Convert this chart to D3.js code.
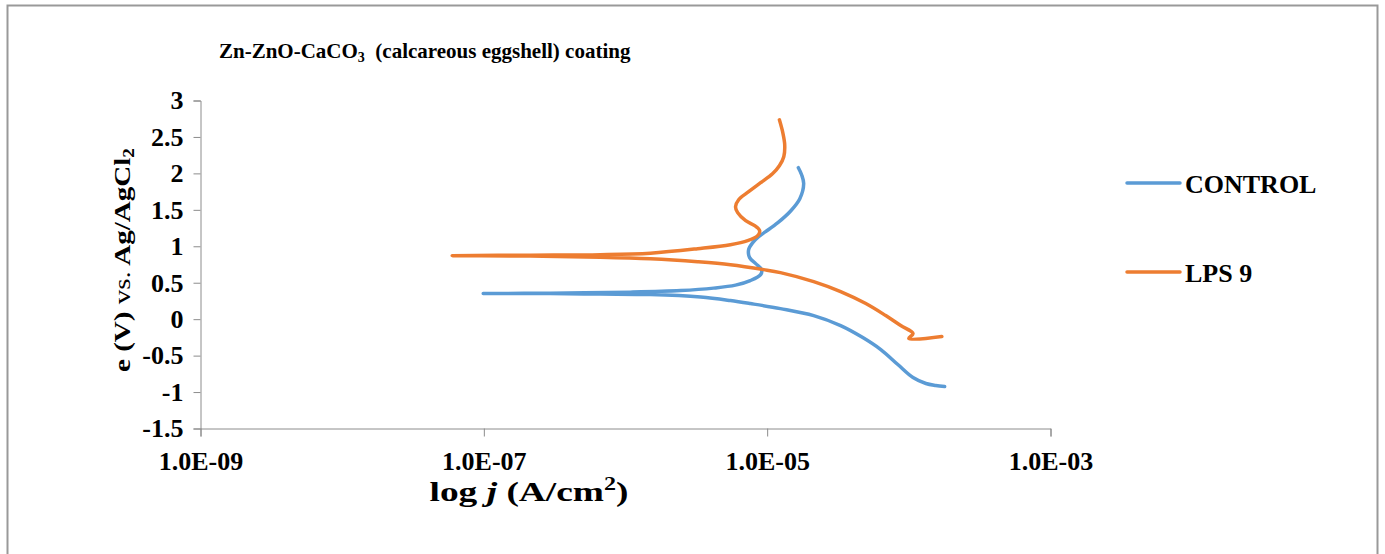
<!DOCTYPE html>
<html>
<head>
<meta charset="utf-8">
<title>Zn-ZnO-CaCO3 coating polarisation</title>
<script src="https://d3js.org/d3.v7.min.js"></script>
<style>
  body { margin: 0; background: #fff; }
  text { font-family: "Liberation Serif", "Times New Roman", serif; font-weight: bold; fill: #000; }
</style>
</head>
<body>
<div id="chart"></div>
<script>
// CONTROL curve, from the cathodic end to the anodic end
var jControl = [1.79e-4, 1.55e-4, 1.32e-4, 1.07e-4, 8.36e-5, 6.34e-5, 4.73e-5, 3.30e-5, 2.13e-5, 1.24e-5, 7.6e-6,
                5.5e-6, 3.39e-6, 1.50e-6, 6.65e-7, 2.95e-7, 9.9e-8,
                2.95e-7, 1.08e-6, 2.45e-6, 4.19e-6, 5.98e-6, 7.6e-6, 8.99e-6, 9.14e-6, 8.30e-6, 7.52e-6,
                7.40e-6, 7.91e-6, 8.71e-6, 9.75e-6, 1.19e-5, 1.47e-5, 1.70e-5, 1.81e-5, 1.75e-5, 1.66e-5]
var eControl = [-0.924, -0.910, -0.883, -0.801, -0.622, -0.417, -0.252, -0.088, 0.049, 0.145, 0.214,
                0.255, 0.303, 0.337, 0.344, 0.351, 0.351,
                0.357, 0.371, 0.392, 0.426, 0.467, 0.529, 0.611, 0.680, 0.762, 0.844,
                0.954, 1.050, 1.132, 1.200, 1.324, 1.488, 1.653, 1.858, 1.982, 2.078]

// LPS 9 curve
var jLps = [1.71e-4, 1.0e-4, 1.07e-4, 8.77e-5, 6.87e-5, 4.97e-5, 3.30e-5, 2.13e-5, 1.24e-5, 9.44e-6, 5.5e-6,
            3.23e-6, 1.50e-6, 6.65e-7, 2.13e-7, 5.98e-8,
            2.13e-7, 6.65e-7, 1.50e-6, 3.23e-6, 5.5e-6, 7.28e-6, 8.57e-6, 8.85e-6, 8.17e-6, 7.05e-6,
            6.19e-6, 5.98e-6, 6.29e-6, 7.40e-6, 8.99e-6, 1.09e-5, 1.22e-5, 1.31e-5, 1.33e-5, 1.29e-5, 1.22e-5]
var eLps = [-0.239, -0.266, -0.198, -0.088, 0.049, 0.214, 0.378, 0.515, 0.638, 0.680, 0.748,
            0.789, 0.830, 0.851, 0.865, 0.871,
            0.878, 0.885, 0.906, 0.967, 1.022, 1.077, 1.146, 1.214, 1.283, 1.351,
            1.461, 1.543, 1.639, 1.749, 1.872, 1.995, 2.105, 2.228, 2.393, 2.557, 2.735]

var seriesNames = ["CONTROL", "LPS 9"]
var seriesColors = ["#5B9BD5", "#ED7D31"]
var xTicks = [1e-9, 1e-7, 1e-5, 1e-3]
var xTickLabels = ["1.0E-09", "1.0E-07", "1.0E-05", "1.0E-03"]
var yTicks = [-1.5, -1, -0.5, 0, 0.5, 1, 1.5, 2, 2.5, 3]

var width = 1385, height = 554
var plot = { left: 200.5, right: 1050.5, top: 100.5, bottom: 428.5 }

var svg = d3.select("#chart").append("svg")
    .attr("width", width)
    .attr("height", height)

// outer frame
svg.append("rect")
    .attr("x", 7.5).attr("y", 5.5)
    .attr("width", 1370).attr("height", 600)
    .attr("fill", "none")
    .attr("stroke", "#999")
    .attr("stroke-width", 2)

var x = d3.scaleLog().domain([1e-9, 1e-3]).range([plot.left, plot.right])
var y = d3.scaleLinear().domain([-1.5, 3]).range([plot.bottom, plot.top])

var xAxis = d3.axisBottom(x)
    .tickValues(xTicks)
    .tickFormat(function(d, i) { return xTickLabels[i] })
    .tickSize(8)
    .tickPadding(15)

var yAxis = d3.axisLeft(y)
    .tickValues(yTicks)
    .tickFormat(function(d) { return String(d) })
    .tickSize(7)
    .tickPadding(10)

svg.append("g")
    .attr("transform", "translate(0," + plot.bottom + ")")
    .call(xAxis)
svg.append("g")
    .attr("transform", "translate(" + plot.left + ",0)")
    .call(yAxis)

svg.selectAll(".domain, .tick line").attr("stroke", "#8c8c8c")
svg.selectAll(".tick text")
    .attr("font-family", "Liberation Serif, Times New Roman, serif")
    .attr("font-weight", "bold")
    .attr("font-size", 26)
    .attr("fill", "#000")

// curves
var line = d3.line()
    .x(function(d) { return x(d[0]) })
    .y(function(d) { return y(d[1]) })
    .curve(d3.curveCatmullRom.alpha(0.5))

var series = [d3.zip(jControl, eControl), d3.zip(jLps, eLps)]

svg.selectAll(".curve")
    .data(series)
    .enter().append("path")
    .attr("class", "curve")
    .attr("d", line)
    .attr("fill", "none")
    .attr("stroke", function(d, i) { return seriesColors[i] })
    .attr("stroke-width", 3.5)
    .attr("stroke-linecap", "round")
    .attr("stroke-linejoin", "round")

// title
var title = svg.append("text")
    .attr("x", 219).attr("y", 58)
    .attr("font-size", 21)
title.append("tspan").text("Zn-ZnO-CaCO")
title.append("tspan").attr("font-size", 14).attr("dy", 4).text("3")
title.append("tspan").attr("dy", -4).text("\u00a0 (calcareous eggshell) coating")

// y axis title
var ytitle = svg.append("text")
    .attr("transform", "translate(130,260) rotate(-90)")
    .attr("text-anchor", "middle")
    .attr("font-size", 24)
    .attr("textLength", 224)
    .attr("lengthAdjust", "spacingAndGlyphs")
ytitle.append("tspan").text("e (V) ")
ytitle.append("tspan").attr("font-weight", "normal").text("vs.")
ytitle.append("tspan").text(" Ag/AgCl")
ytitle.append("tspan").attr("font-size", 16).attr("dy", 4).text("2")

// x axis title
var xtitle = svg.append("text")
    .attr("x", 529).attr("y", 501)
    .attr("text-anchor", "middle")
    .attr("font-size", 28)
    .attr("textLength", 199)
    .attr("lengthAdjust", "spacingAndGlyphs")
xtitle.append("tspan").text("log ")
xtitle.append("tspan").attr("font-style", "italic").text("j")
xtitle.append("tspan").text(" (A/cm")
xtitle.append("tspan").attr("font-size", 18).attr("dy", -11).text("2")
xtitle.append("tspan").attr("dy", 11).text(")")

// legend
var legend = svg.selectAll(".legend")
    .data(seriesNames)
    .enter().append("g")
    .attr("class", "legend")
    .attr("transform", function(d, i) { return "translate(1127," + (183 + i * 89) + ")" })

legend.append("line")
    .attr("x1", 0).attr("x2", 53)
    .attr("stroke", function(d, i) { return seriesColors[i] })
    .attr("stroke-width", 3.5)
    .attr("stroke-linecap", "round")

legend.append("text")
    .attr("x", 58).attr("y", 10)
    .attr("font-size", 26)
    .text(function(d) { return d })
</script>
</body>
</html>
